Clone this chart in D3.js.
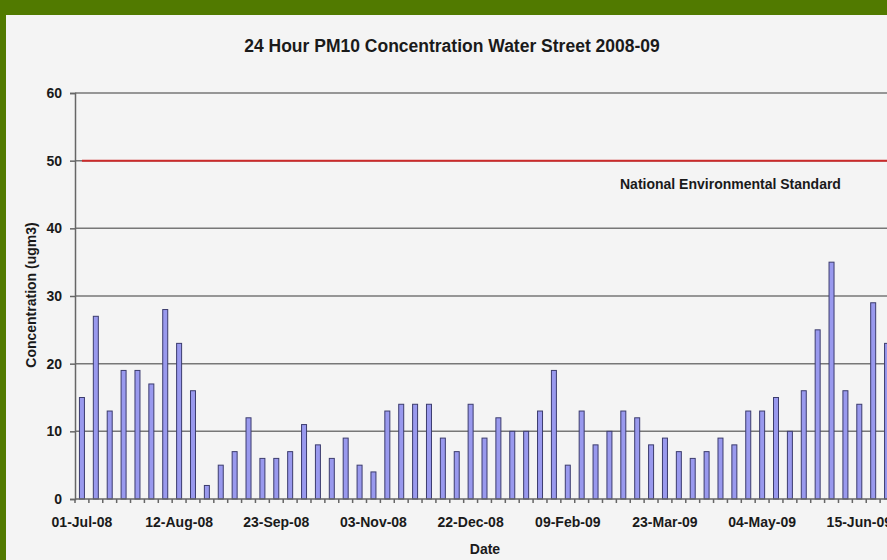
<!DOCTYPE html>
<html>
<head>
<meta charset="utf-8">
<script src="https://cdn.jsdelivr.net/npm/d3@7"></script>
<style>
  html, body { margin: 0; padding: 0; background: #517a00; overflow: hidden; }
  svg { display: block; }
  text { font-family: "Liberation Sans", Arial, sans-serif; font-weight: bold; fill: #1a1a1a; }
</style>
</head>
<body>
<svg id="chart" width="887" height="560"></svg>
<script>
// 24-hour PM10 samples, Water Street, July 2008 – June 2009 (ug/m3)
const pm10 = [
  15, 27, 13, 19, 19, 17, 28, 23, 16, 2,
  5, 7, 12, 6, 6, 7, 11, 8, 6, 9,
  5, 4, 13, 14, 14, 14, 9, 7, 14, 9,
  12, 10, 10, 13, 19, 5, 13, 8, 10, 13,
  12, 8, 9, 7, 6, 7, 9, 8, 13, 13,
  15, 10, 16, 25, 35, 16, 14, 29, 23
];
// Date labels shown every seventh sample
const dateLabels = ["01-Jul-08", "12-Aug-08", "23-Sep-08", "03-Nov-08", "22-Dec-08",
                    "09-Feb-09", "23-Mar-09", "04-May-09", "15-Jun-09"];
const labelEvery = 7;
const standard = 50;           // National Environmental Standard, ug/m3
const yTicks = [0, 10, 20, 30, 40, 50, 60];

const svg = d3.select("#chart");

// light chart panel inside the green frame
svg.append("rect").attr("x", 6).attr("y", 15).attr("width", 900).attr("height", 560)
  .attr("fill", "#f4f4f4");

const plot = { left: 75, right: 894, top: 93, bottom: 499 };

const x = d3.scaleBand()
  .domain(d3.range(pm10.length))
  .range([plot.left, plot.right])
  .paddingInner(0.64).paddingOuter(0.32);

const y = d3.scaleLinear().domain([0, 60]).range([plot.bottom, plot.top]);

// horizontal gridlines
svg.append("g").selectAll("line").data(yTicks.filter(d => d > 0)).join("line")
  .attr("x1", plot.left).attr("x2", plot.right)
  .attr("y1", d => y(d)).attr("y2", d => y(d))
  .attr("stroke", "#777").attr("stroke-width", 1.5);

// bars
svg.append("g").selectAll("rect").data(pm10).join("rect")
  .attr("x", (d, i) => x(i))
  .attr("y", d => y(d))
  .attr("width", x.bandwidth())
  .attr("height", d => y(0) - y(d))
  .attr("fill", "#9999ee")
  .attr("stroke", "#3c3c6e")
  .attr("stroke-width", 1);

// standard line from the first sample onwards
const cx = i => x(i) + x.bandwidth() / 2;
svg.append("line")
  .attr("x1", cx(0)).attr("x2", plot.right)
  .attr("y1", y(standard)).attr("y2", y(standard))
  .attr("stroke", "#cc2a2a").attr("stroke-width", 2);

svg.append("text")
  .attr("x", 620).attr("y", 188.5)
  .style("font-size", "14px")
  .text("National Environmental Standard");

// y axis
const yAxis = svg.append("g")
  .attr("transform", `translate(${plot.left},0)`)
  .call(d3.axisLeft(y).tickValues(yTicks).tickSize(5).tickPadding(8).tickFormat(d3.format("d")));
yAxis.select(".domain").attr("stroke", "#666").attr("stroke-width", 1.5);
yAxis.selectAll(".tick line").attr("stroke", "#666").attr("stroke-width", 1.5);
yAxis.selectAll(".tick text").style("font-size", "14px").style("font-family", null).attr("fill", "#1a1a1a");

// x axis: tick marks between samples, labels under every seventh sample
const step = x.step();
const xAxisG = svg.append("g").attr("transform", `translate(0,${plot.bottom})`);
xAxisG.append("line").attr("x1", plot.left).attr("x2", plot.right)
  .attr("stroke", "#666").attr("stroke-width", 1.5);
xAxisG.selectAll("line.tk").data(d3.range(pm10.length + 1)).join("line")
  .attr("class", "tk")
  .attr("x1", i => plot.left + i * step).attr("x2", i => plot.left + i * step)
  .attr("y1", 0).attr("y2", 4)
  .attr("stroke", "#666").attr("stroke-width", 1.5);
xAxisG.selectAll("text").data(dateLabels).join("text")
  .attr("x", (d, k) => cx(k * labelEvery))
  .attr("y", 28)
  .attr("text-anchor", "middle")
  .style("font-size", "14px")
  .text(d => d);

// titles
svg.append("text")
  .attr("x", 452).attr("y", 52)
  .attr("text-anchor", "middle")
  .style("font-size", "17.5px")
  .text("24 Hour PM10 Concentration Water Street 2008-09");

svg.append("text")
  .attr("x", 485).attr("y", 554)
  .attr("text-anchor", "middle")
  .style("font-size", "14px")
  .text("Date");

svg.append("text")
  .attr("transform", "translate(36,295) rotate(-90)")
  .attr("text-anchor", "middle")
  .style("font-size", "14px")
  .text("Concentration (ugm3)");
</script>
</body>
</html>
